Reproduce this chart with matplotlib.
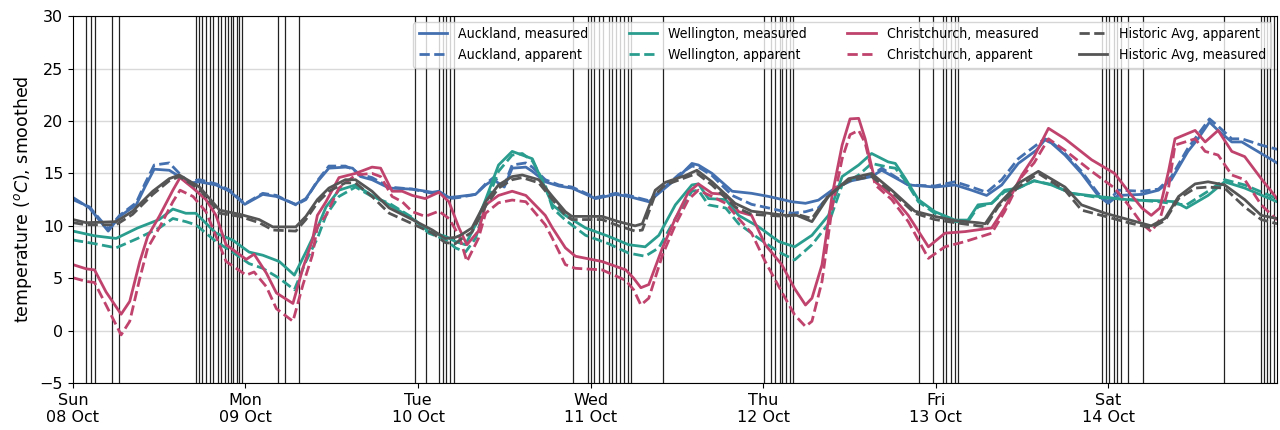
import numpy as np
import pandas as pd
import matplotlib
matplotlib.use("Agg")
import matplotlib.pyplot as plt
import matplotlib.dates as mdates

start = pd.Timestamp("2023-10-08 00:00")

# hours since Sun 08 Oct 00:00
akl_h = [0, 2.3, 4.9, 6.5, 8.8, 10, 11.3, 13.4, 14.8, 16, 17.6, 19.9, 21.8, 23.9, 26.4, 28.3, 31, 32.4, 34,
         35.6, 37.9, 38.9, 40, 41.6, 44, 47.2, 50, 50.9, 52.3, 53.7, 56, 57.4, 58.5, 60, 61.1, 63, 63.9, 65.7,
         67.6, 69.4, 72.7, 75.5, 77.3, 80.1, 82, 84.3, 86.1, 87, 88.9, 91.7, 94.4, 96.8, 100, 101.9, 103.7,
         106, 108.3, 111.1, 112.5, 116.2, 119.9, 122.7, 125, 127.1, 129.2, 131.5, 134, 135.2, 136.1, 138,
         140.3, 142.6, 144, 145.4, 148.7, 151, 152.8, 155.1, 156.5, 158.1, 159.3, 161.2, 162.6, 165.3, 167.5]
akl_meas = [12.7, 11.7, 9.5, 10.9, 12.0, 13.7, 15.4, 15.3, 14.7, 14.05, 14.2, 13.9, 13.3, 12.05, 13.0, 12.8,
            12.05, 12.6, 14.2, 15.5, 15.6, 15.5, 14.7, 14.4, 13.6, 13.5, 13.2, 13.3, 12.7, 12.8, 13.0, 13.9,
            14.4, 13.7, 15.5, 15.6, 15.2, 14.2, 13.8, 13.6, 12.6, 13.0, 12.8, 12.3, 13.4, 14.7, 15.95, 15.8,
            15.0, 13.3, 13.1, 12.8, 12.3, 12.15, 12.45, 13.6, 14.3, 14.7, 15.3, 13.9, 13.7, 13.9, 13.4, 12.9,
            13.9, 15.95, 17.2, 18.2, 17.9, 16.75, 15.0, 12.9, 12.15, 12.9, 13.0, 13.4, 14.4, 17.1, 18.3, 19.9,
            19.1, 18.0, 18.0, 16.9, 16.0]
akl_app = [12.5, 11.8, 9.7, 11.0, 12.2, 14.0, 15.8, 16.0, 15.0, 14.2, 14.4, 14.0, 13.4, 12.1, 13.1, 12.9,
           12.0, 12.5, 14.3, 15.7, 15.7, 15.4, 14.9, 14.6, 13.7, 13.5, 13.1, 13.2, 12.6, 12.7, 13.0, 14.0,
           14.6, 13.9, 15.8, 16.0, 15.6, 14.4, 13.9, 13.7, 12.7, 13.1, 12.9, 12.4, 13.5, 14.9, 15.7, 15.6,
           14.8, 12.9, 12.05, 11.7, 11.2, 11.35, 11.7, 13.6, 14.4, 14.8, 15.5, 13.9, 13.8, 14.2, 13.7, 13.2,
           14.4, 16.4, 17.7, 18.3, 18.0, 16.9, 15.2, 13.1, 12.3, 13.4, 13.3, 13.5, 14.7, 17.4, 18.7, 20.2,
           19.5, 18.3, 18.3, 17.7, 17.3]

wel_h = [0, 3, 6, 9, 12, 13.9, 15.7, 17.1, 19.9, 22.2, 24.5, 26.4, 28.7, 30.8, 32.4, 34, 35.2, 37, 39.3,
         41.6, 44, 47.2, 49.5, 51.8, 53.2, 54.6, 56, 57.4, 59.2, 61.1, 62.5, 63.9, 65.7, 66.7, 68.5, 71.3,
         74.5, 77.3, 79.6, 81.5, 83.8, 86.1, 87, 88.4, 90.8, 92.6, 95.4, 98.2, 100.4, 102.8, 105.1, 107,
         109.3, 111.1, 113.4, 114.4, 115.8, 117.6, 119.9, 122.7, 124.5, 125.9, 127.8, 129.6, 131.5, 133.7,
         136.1, 138.9, 142.6, 147.3, 151, 153.3, 154.9, 157.9, 160.2, 163, 167.5]
wel_meas = [9.5, 9.05, 8.8, 9.8, 10.6, 11.6, 11.2, 11.2, 9.3, 8.65, 7.5, 7.2, 6.6, 5.3, 7.5, 9.8, 11.8,
            13.4, 13.9, 12.9, 12.0, 10.7, 9.45, 9.0, 8.5, 8.2, 10.1, 12.5, 15.8, 17.1, 16.75, 16.4, 13.6,
            12.0, 11.0, 9.8, 9.0, 8.2, 8.0, 9.1, 12.0, 13.9, 14.0, 12.6, 12.5, 11.0, 9.9, 8.5, 8.0, 9.1,
            11.0, 14.7, 15.8, 16.9, 16.1, 15.95, 14.5, 12.5, 11.35, 10.55, 10.55, 12.0, 12.15, 13.4, 13.6,
            14.3, 13.9, 13.1, 12.8, 12.45, 12.4, 12.3, 11.7, 12.9, 14.2, 13.6, 12.3]
wel_app = [8.65, 8.3, 7.9, 8.8, 9.8, 10.7, 10.4, 10.1, 8.5, 7.5, 6.4, 5.95, 5.0, 3.9, 6.6, 8.8, 11.0,
           12.8, 13.7, 12.8, 12.15, 10.8, 9.3, 8.7, 7.9, 7.5, 8.8, 12.0, 15.2, 16.75, 16.9, 16.2, 13.9,
           11.7, 10.55, 9.1, 8.3, 7.4, 7.1, 7.9, 10.7, 13.3, 13.4, 12.0, 11.7, 10.2, 8.8, 7.5, 6.75, 8.2,
           10.2, 13.9, 14.85, 15.95, 15.6, 15.5, 14.3, 12.3, 11.2, 10.4, 10.4, 11.8, 12.15, 13.25, 13.6,
           14.3, 13.95, 13.1, 12.7, 12.5, 12.3, 12.1, 12.0, 13.3, 14.4, 13.9, 12.6]

chc_h = [0, 1.85, 3, 4.6, 6.7, 7.9, 9.3, 10.4, 12, 13.9, 14.9, 16.7, 18.5, 19.9, 21.3, 24.1, 25.2, 26.9,
         28.3, 30.6, 32, 33.3, 34, 35.2, 37, 39.3, 41.6, 42.8, 44.4, 45.8, 47.2, 49, 50.9, 52.3, 53.7, 54.8,
         56.4, 57.4, 59.2, 61.1, 63, 65.7, 66.7, 68.5, 69.9, 73.6, 76.9, 78, 79, 80.1, 82, 83.8, 85.6, 87,
         88.9, 90.8, 92.6, 94.4, 96.3, 98.6, 100.4, 101.9, 102.8, 104.2, 105.6, 107, 108.1, 109.3, 110.2,
         111.6, 113.9, 116.2, 119, 121.3, 124.1, 127.8, 129.6, 132, 133.7, 135.7, 138, 141.7, 144.9, 146.8,
         148.7, 150, 151.2, 152.4, 153.3, 156.1, 157.5, 159.3, 161.2, 163, 165.3, 167.5]
chc_meas = [6.3, 5.9, 5.8, 3.7, 1.57, 2.8, 6.6, 9.0, 10.9, 13.4, 14.6, 13.6, 12.5, 11.0, 8.2, 6.8, 7.3,
            5.5, 3.6, 2.6, 6.0, 8.6, 11.0, 12.3, 14.6, 15.0, 15.6, 15.5, 13.3, 13.3, 12.9, 12.6, 13.2, 12.3,
            9.8, 8.2, 9.5, 12.0, 12.9, 13.3, 12.9, 11.0, 9.8, 7.9, 7.1, 6.6, 5.8, 5.0, 4.1, 4.4, 7.9, 10.7,
            13.2, 14.0, 13.1, 13.0, 11.35, 11.0, 8.2, 6.3, 4.0, 2.45, 3.1, 6.3, 12.9, 17.7, 20.2, 20.25, 18.3,
            14.2, 12.9, 11.0, 8.0, 9.3, 9.45, 9.8, 11.7, 14.85, 16.6, 19.3, 18.3, 16.3, 15.0, 13.3, 11.7,
            11.0, 11.7, 15.2, 18.3, 19.1, 18.0, 19.1, 17.1, 16.6, 14.5, 12.6]
chc_app = [5.05, 4.7, 4.6, 2.45, -0.4, 0.9, 5.0, 7.9, 9.8, 12.3, 13.4, 12.8, 11.35, 9.0, 6.6, 5.3, 5.6,
           4.2, 2.1, 0.9, 4.4, 7.2, 9.9, 11.0, 13.6, 14.85, 15.0, 14.7, 12.8, 12.3, 11.35, 10.9, 11.4, 10.7,
           9.1, 6.6, 8.8, 11.2, 12.2, 12.46, 12.3, 10.1, 8.8, 6.3, 5.95, 5.8, 4.8, 3.9, 2.45, 3.1, 7.2, 10.1,
           12.5, 13.4, 12.8, 12.15, 10.7, 9.3, 6.6, 3.7, 1.5, 0.4, 0.9, 4.7, 11.7, 16.4, 18.7, 19.1, 17.9,
           13.9, 12.5, 10.4, 6.9, 8.0, 8.5, 9.3, 11.35, 14.7, 16.0, 18.3, 17.2, 15.2, 13.6, 12.0, 10.2,
           9.45, 10.6, 13.6, 17.7, 18.3, 17.1, 16.75, 14.85, 14.4, 12.0, 10.56]

hist_h = [0, 1.85, 6, 8.3, 11.1, 13.4, 14.8, 17.6, 20.4, 23.2, 25.9, 27.8, 31, 32.4, 34, 35.6, 37.9, 39.3,
          41.6, 44, 47.2, 50, 51.8, 53.2, 53.9, 55.5, 57.4, 59.2, 61.1, 62.5, 64.8, 66.7, 68.5, 69.4, 73.6,
          75.9, 78.2, 79.2, 81, 82.4, 85.2, 86.8, 88.9, 92.1, 94.4, 99.1, 100.7, 102.8, 105.1, 107.9, 111.1,
          113.9, 117.1, 119.9, 122.7, 125.9, 126.9, 128.7, 131.5, 134.3, 138, 140.3, 143.6, 146.8, 150,
          151.9, 153.8, 156.1, 157.9, 160.2, 163, 165.3, 167.5]
hist_meas = [10.6, 10.3, 10.4, 11.4, 13.3, 14.5, 14.85, 13.7, 11.5, 11.1, 10.6, 9.9, 9.9, 10.9, 12.5,
             13.6, 14.4, 14.4, 13.3, 11.7, 10.6, 9.6, 8.8, 8.9, 9.1, 9.8, 12.3, 13.9, 14.7, 14.85, 14.4,
             12.8, 11.35, 10.9, 10.9, 10.4, 10.0, 10.2, 13.4, 14.15, 14.8, 15.3, 14.2, 12.15, 11.4, 11.0,
             11.0, 10.4, 12.8, 14.5, 15.0, 13.4, 11.4, 10.9, 10.5, 10.3, 10.2, 12.0, 14.05, 15.2, 13.7,
             12.0, 11.2, 10.6, 10.0, 10.7, 12.8, 14.0, 14.2, 13.9, 12.5, 11.0, 10.7]
hist_app = [10.3, 10.1, 10.1, 11.1, 13.0, 14.3, 14.7, 13.5, 11.2, 10.9, 10.3, 9.6, 9.5, 10.6, 12.2, 13.3,
            14.1, 14.1, 12.8, 11.2, 10.2, 9.3, 8.4, 8.3, 8.7, 9.4, 11.9, 13.6, 14.4, 14.6, 14.1, 12.5,
            11.0, 10.6, 10.6, 10.0, 9.5, 9.6, 13.0, 13.9, 14.6, 15.0, 13.9, 11.8, 11.1, 10.9, 11.1, 10.7,
            12.9, 14.3, 14.7, 13.2, 11.2, 10.6, 10.3, 10.0, 9.9, 11.8, 13.7, 15.0, 13.4, 11.5, 10.9, 10.3,
            9.8, 10.5, 12.6, 13.6, 13.7, 13.6, 11.8, 10.6, 10.2]

# times of the marked events (hours since start)
event_h = [1.86, 2.46, 3.06, 5.48, 6.39, 17.05, 17.51, 17.98, 18.54, 19.09, 19.55, 20.11, 20.57, 21.12,
           21.6, 21.96, 22.33, 22.79, 23.16, 23.54, 28.54, 29.46, 31.5, 47.62, 49.11, 50.96, 51.42, 51.89,
           52.45, 53.0, 69.58, 71.62, 72.08, 72.54, 73.19, 73.75, 74.58, 75.04, 75.51, 76.15, 76.71, 77.18,
           77.64, 82.09, 96.16, 97.1, 97.65, 98.3, 98.67, 99.22, 99.69, 100.15, 117.66, 119.7, 121.0,
           121.46, 122.11, 122.76, 123.12, 143.13, 143.69, 144.16, 144.8, 145.28, 145.83, 146.75, 148.79,
           160.18, 165.28, 165.74, 166.12, 166.58, 167.13]


def to_time(hours):
    return start + pd.to_timedelta(np.array(hours), unit="h")


c_akl = "#4470b0"
c_wel = "#2a9d8f"
c_chc = "#c0436d"
c_hist = "#555555"

fig = plt.figure(figsize=(12.8, 4.3), dpi=100)
ax = fig.add_axes([0.057, 0.109, 0.9407, 0.8535])

for t in to_time(event_h):
    ax.axvline(t, color="#222222", lw=0.9, zorder=1.5)

ax.plot(to_time(akl_h), akl_meas, color=c_akl, lw=2, label="Auckland, measured")
ax.plot(to_time(akl_h), akl_app, color=c_akl, lw=2, ls="--", label="Auckland, apparent")
ax.plot(to_time(wel_h), wel_meas, color=c_wel, lw=2, label="Wellington, measured")
ax.plot(to_time(wel_h), wel_app, color=c_wel, lw=2, ls="--", label="Wellington, apparent")
ax.plot(to_time(chc_h), chc_meas, color=c_chc, lw=2, label="Christchurch, measured")
ax.plot(to_time(chc_h), chc_app, color=c_chc, lw=2, ls="--", label="Christchurch, apparent")
ax.plot(to_time(hist_h), hist_app, color=c_hist, lw=2, ls="--", label="Historic Avg, apparent")
ax.plot(to_time(hist_h), hist_meas, color=c_hist, lw=2, label="Historic Avg, measured")

ax.set_xlim(start, start + pd.Timedelta(hours=167.5))
ax.set_ylim(-5, 30)
ax.set_yticks(np.arange(-5, 31, 5))
ax.xaxis.set_major_locator(mdates.DayLocator())
ax.xaxis.set_major_formatter(mdates.DateFormatter("%a\n%d %b"))
ax.tick_params(labelsize=11.5)
ax.yaxis.grid(True, color="#d9d9d9", lw=1)
ax.set_axisbelow(True)
ax.set_ylabel("temperature ($^oC$), smoothed", fontsize=12.5)

ax.legend(loc="upper right", ncol=4, framealpha=0.8,
          prop={"family": "DejaVu Sans", "stretch": "condensed", "size": 10.1},
          borderaxespad=0.4, columnspacing=2.9)

fig.savefig("out.png", dpi=100)
